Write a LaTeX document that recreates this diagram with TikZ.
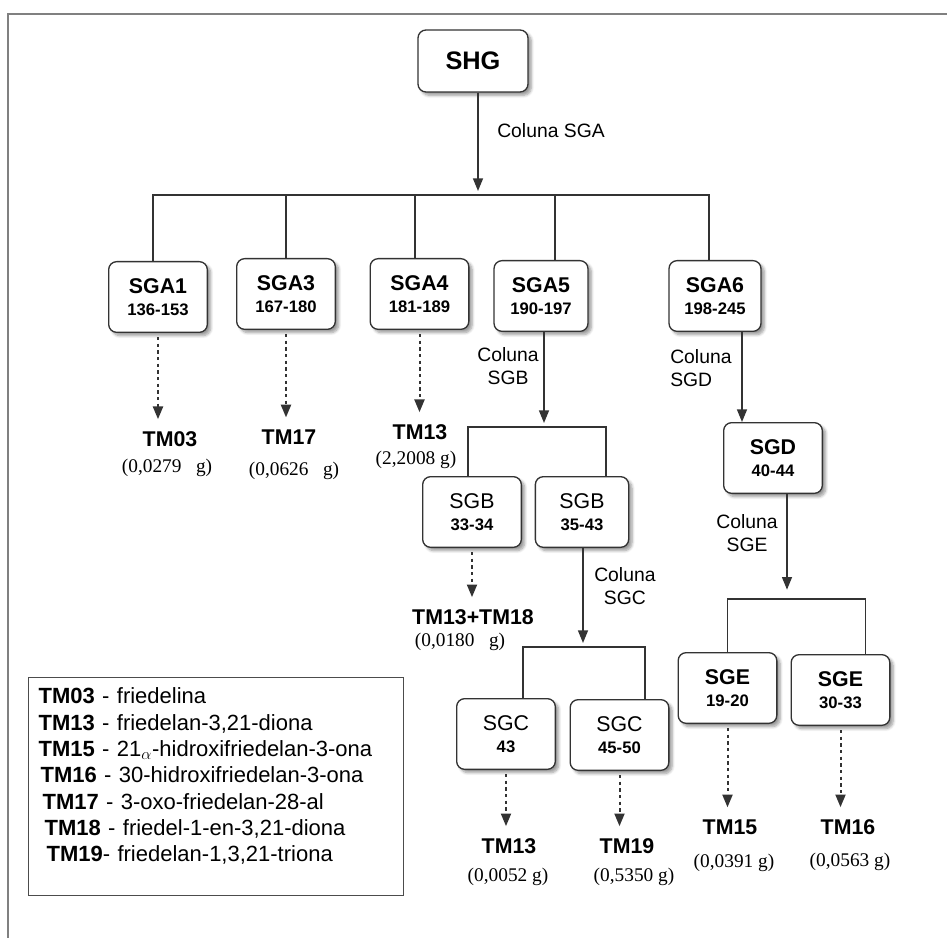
\documentclass[tikz,border=0pt]{standalone}
\usepackage{fontspec}
\setmainfont{Liberation Sans}
\newfontfamily\massfont{Liberation Serif}
\usetikzlibrary{arrows.meta,shadows.blur}

\newcommand{\caixatxt}[3][\bfseries]{{\fontsize{16}{19}\selectfont #1#2}\\[5pt]{\fontsize{12.5}{15}\selectfont\bfseries #3}}

\begin{document}
\begin{tikzpicture}[x=0.75pt,y=-0.75pt,>={Triangle[length=9.5pt,width=7.5pt]},
  caixa/.style={draw=black!80,line width=1pt,rounded corners=6pt,fill=white,align=center,
    minimum width=74pt,minimum height=53pt,inner sep=2pt,
    blur shadow={shadow xshift=2.5pt,shadow yshift=-2.5pt,shadow blur steps=6,shadow opacity=40}},
  linha/.style={draw=black!80,line width=1.1pt},
  seta/.style={linha,->,shorten >=3pt},
  pontilhada/.style={linha,->,line width=1.5pt,dash pattern=on 2.5pt off 2.5pt,
    shorten <=3pt,shorten >=8pt},
  tm/.style={font=\fontsize{16}{19}\selectfont\bfseries,inner sep=1pt},
  massa/.style={font=\massfont\fontsize{14.5}{17}\selectfont,inner sep=1pt},
  coluna/.style={font=\fontsize{14.5}{17.5}\selectfont,inner sep=0pt},
  legenda/.style={draw=black!70,line width=1pt,anchor=north west,align=left,
    inner xsep=7.5pt,inner ysep=3pt,text width=266pt,text height=16.5pt,text depth=141pt,
    font=\fontsize{16.5}{19.75}\selectfont}]
  \useasboundingbox (0,0) rectangle (947,938);
  % moldura
  \draw[gray,line width=1.5pt] (8,938) -- (8,14) -- (947,14);

  % caixas
  \node[caixa,font=\fontsize{19}{22}\selectfont\bfseries,minimum width=82.5pt,minimum height=46.5pt]
    (shg) at (473,61) {SHG};
  \node[caixa] (sga1) at (158,297) {\caixatxt{SGA1}{136-153}};
  \node[caixa] (sga3) at (286,294) {\caixatxt{SGA3}{167-180}};
  \node[caixa] (sga4) at (419.5,294) {\caixatxt{SGA4}{181-189}};
  \node[caixa,minimum width=70.5pt] (sga5) at (541,296) {\caixatxt{SGA5}{190-197}};
  \node[caixa,minimum width=69pt] (sga6) at (715,296) {\caixatxt{SGA6}{198-245}};
  \node[caixa] (sgd) at (773,458) {\caixatxt{SGD}{40-44}};
  \node[caixa] (sgb1) at (472,512) {\caixatxt[\mdseries]{SGB}{33-34}};
  \node[caixa,minimum width=70pt] (sgb2) at (582,512) {\caixatxt[\mdseries]{SGB}{35-43}};
  \node[caixa] (sgc1) at (506,734) {\caixatxt[\mdseries]{SGC}{43}};
  \node[caixa] (sgc2) at (619.5,735) {\caixatxt[\mdseries]{SGC}{45-50}};
  \node[caixa] (sge1) at (727.5,688) {\caixatxt{SGE}{19-20}};
  \node[caixa] (sge2) at (840.5,690) {\caixatxt{SGE}{30-33}};

  % colunas
  \node[coluna,anchor=west] (colsga) at (497,131) {Coluna SGA};
  \node[coluna,anchor=east,align=center] (colsgb) at (539,366) {Coluna\\SGB};
  \node[coluna,anchor=west,align=left] (colsgd) at (670,368) {Coluna\\SGD};
  \node[coluna,anchor=east,align=center] (colsge) at (778,533) {Coluna\\SGE};
  \node[coluna,anchor=west,align=center] (colsgc) at (594,586) {Coluna\\SGC};

  % substancias
  \node[tm] (tm03) at (170,439) {TM03};
  \node[massa] (m03) at (167,468) {(0,0279\ \ \ g)};
  \node[tm] (tm17) at (289,437) {TM17};
  \node[massa] (m17) at (294,471) {(0,0626\ \ \ g)};
  \node[tm] (tm13a) at (420,432) {TM13};
  \node[massa] (m13a) at (416,460) {(2,2008 g)};
  \node[tm] (tm1318) at (473,617) {TM13+TM18};
  \node[massa] (m1318) at (460,642) {(0,0180\ \ \ g)};
  \node[tm] (tm13c) at (509,846) {TM13};
  \node[massa] (m13c) at (508,877) {(0,0052 g)};
  \node[tm] (tm19) at (627,846) {TM19};
  \node[massa] (m19) at (634,877) {(0,5350 g)};
  \node[tm] (tm15) at (730,827) {TM15};
  \node[massa] (m15) at (734,863) {(0,0391 g)};
  \node[tm] (tm16) at (848,827) {TM16};
  \node[massa] (m16) at (850,862) {(0,0563 g)};

  % legenda
  \node[legenda] (leg) at (28,677) {%
    \textbf{TM03} - friedelina\\
    \textbf{TM13} - friedelan-3,21-diona\\
    \textbf{TM15} - 21$_{\alpha}$-hidroxifriedelan-3-ona\\
    \hspace*{1.5pt}\textbf{TM16} - 30-hidroxifriedelan-3-ona\\
    \hspace*{3pt}\textbf{TM17} - 3-oxo-friedelan-28-al\\
    \hspace*{4.5pt}\textbf{TM18} - friedel-1-en-3,21-diona\\
    \hspace*{6pt}\textbf{TM19}- friedelan-1,3,21-triona};

  % ligacoes
  \coordinate (barraA) at (478,195);
  \coordinate (barraB) at (544,427);
  \coordinate (barraC) at (583,647);
  \coordinate (barraE) at (787,599);
  \draw[seta] (shg.south -| barraA) -- (barraA);
  \draw[linha] ([xshift=-3.75pt]sga1.north) |- (barraA) -| ([xshift=-4.5pt]sga6.north);
  \foreach \c/\d in {sga3/0pt,sga4/-3.4pt,sga5/10.5pt}
    \draw[linha] ([xshift=\d]\c.north) -- ([xshift=\d]\c.north |- barraA);
  \draw[seta] (sga5.south -| barraB) -- (barraB);
  \draw[linha] ([xshift=-3pt]sgb1.north) |- (barraB) -| ([xshift=18pt]sgb2.north);
  \draw[seta,shorten >=0pt] ([xshift=20.25pt]sga6.south) -- ([xshift=20.25pt]sga6.south |- sgd.north);
  \draw[seta,shorten >=7pt] (sgd.south -| barraE) -- (barraE);
  \draw[linha] (sge1.north) |- (barraE) -| ([xshift=18.75pt]sge2.north);
  \draw[seta] (sgb2.south -| barraC) -- (barraC);
  \draw[linha] ([xshift=12.75pt]sgc1.north) |- (barraC) -| ([xshift=19.1pt]sgc2.north);
  \foreach \c/\t in {sga1/tm03,sga3/tm17,sga4/tm13a,sgb1/tm1318,sgc1/tm13c,sgc2/tm19,sge1/tm15,sge2/tm16}
    \draw[pontilhada] (\c.south) -- (\c.south |- \t.north);
\end{tikzpicture}
\end{document}
